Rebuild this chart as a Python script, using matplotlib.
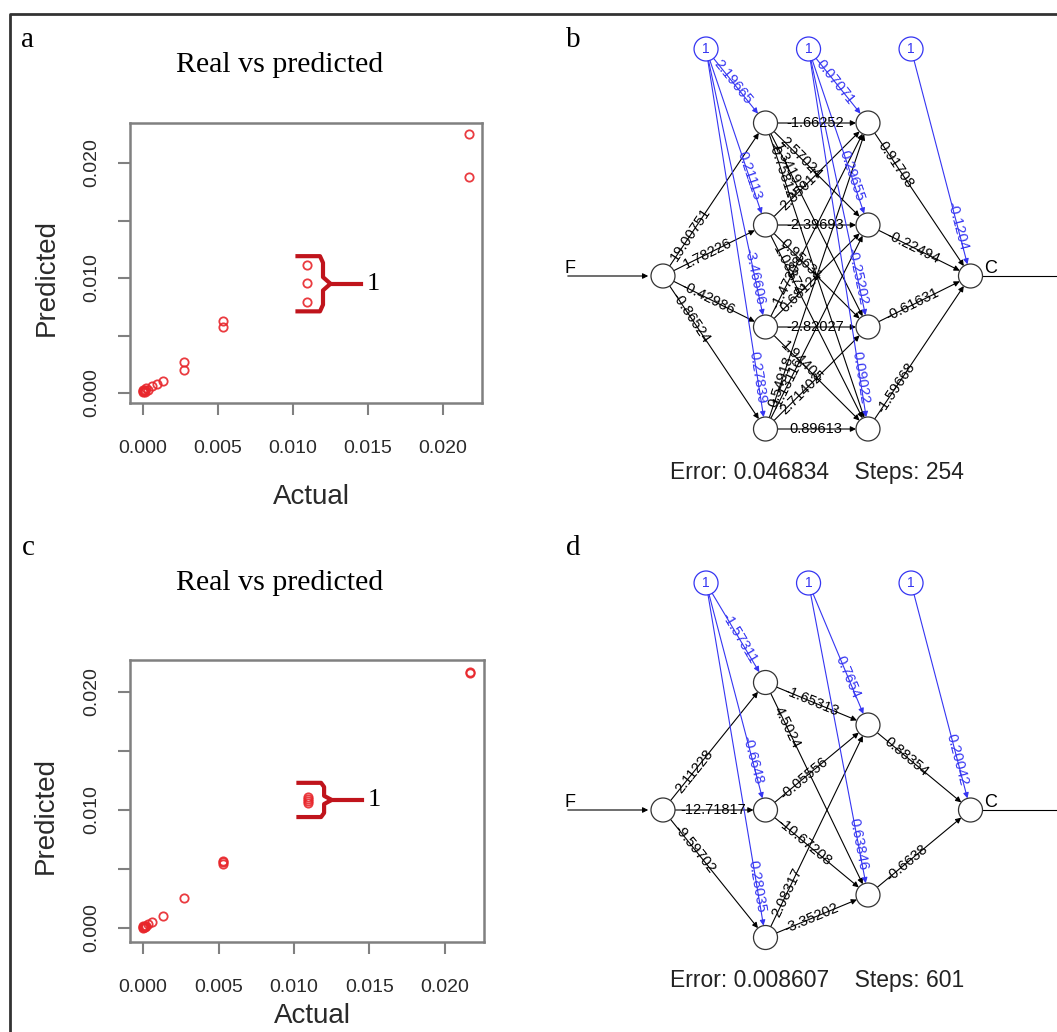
import matplotlib.pyplot as plt
from matplotlib.patches import Circle, FancyArrowPatch
import numpy as np

plt.rcParams['font.family'] = ['Liberation Sans', 'DejaVu Sans']

W, H = 1057, 1032

# real vs predicted, panel a
actual_a = [0.0, 0.0, 0.0, 0.00005, 0.0001, 0.0001, 0.0002, 0.0003, 0.0006, 0.0009,
            0.0013, 0.0027, 0.0027, 0.0053, 0.0053, 0.0109, 0.0109, 0.0109, 0.0217, 0.0217]
pred_a = [0.0001, 0.0002, 0.0003, 0.0002, 0.0001, 0.0003, 0.0004, 0.0003, 0.0006, 0.0008,
          0.0010, 0.0020, 0.0027, 0.0057, 0.0063, 0.0079, 0.0096, 0.0111, 0.0188, 0.0225]

# real vs predicted, panel c
actual_c = [0.0, 0.0, 0.0, 0.00005, 0.0001, 0.0001, 0.0002, 0.0003, 0.0006, 0.0013,
            0.0027, 0.0053, 0.0053, 0.0053, 0.0109, 0.0109, 0.0109, 0.0109, 0.0217, 0.0217]
pred_c = [0.0000, 0.0001, 0.0002, 0.0001, 0.0001, 0.0002, 0.0002, 0.0003, 0.0005, 0.0010,
          0.0025, 0.0054, 0.0056, 0.0057, 0.0106, 0.0108, 0.0109, 0.0111, 0.0216, 0.0217]

group_x = 0.0109   # points marked with the bracket "1"
ticks = [0.0, 0.005, 0.010, 0.015, 0.020]
tick_labels = ['0.000', '0.005', '0.010', '0.015', '0.020']
ytick_labels = ['0.000', '', '0.010', '', '0.020']

# network b : F -> 4 -> 4 -> C
b_layers = [1, 4, 4, 1]
b_weights = [
    [[19.00751, 1.78226, -0.42986, -0.86524]],
    [[-1.66252, 2.57024, 1.34197, -0.75812],
     [2.35017, -2.39693, 0.95631, 1.08372],
     [-1.47308, 0.68124, -2.82027, 1.94405],
     [0.54918, -1.13116, 2.71402, 0.89613]],
    [[0.91708], [-0.22494], [-0.61631], [-1.59668]],
]
b_bias = [[2.19665, 0.21113, -3.46606, 0.27839],
          [0.07071, 0.29655, -0.25202, 0.09022],
          [-0.1204]]
b_info = ('0.046834', 254)

# network d : F -> 3 -> 2 -> C
d_layers = [1, 3, 2, 1]
d_weights = [
    [[2.11228, -12.71817, -9.59702]],
    [[-1.65313, 4.5024], [-0.05556, -10.67208], [2.08317, -3.35202]],
    [[0.88354], [-0.6638]],
]
d_bias = [[-1.57311, -0.6648, 0.28035],
          [0.7654, 0.63846],
          [0.20042]]
d_info = ('0.008607', 601)

RED = '#e8262b'
BLUE = '#3535f2'
SERIF = ['Liberation Serif', 'DejaVu Serif']

fig = plt.figure(figsize=(W / 100, H / 100), dpi=100)

# background canvas in pixel units (y downwards)
cv = fig.add_axes([0, 0, 1, 1])
cv.set_xlim(0, W)
cv.set_ylim(H, 0)
cv.axis('off')

cv.plot([9.6, 9.6, W + 5], [H + 5, 14, 14], color='#333333', lw=2)
for lab, x, y in [('a', 28, 40), ('b', 573, 40), ('c', 28, 548), ('d', 573, 548)]:
    cv.text(x, y, lab, family=SERIF, fontsize=21, ha='center', va='center')
for y in [65, 583]:
    cv.text(280, y, 'Real vs predicted', family=SERIF, fontsize=21.5,
            ha='center', va='center')


def scatter_panel(rect, actual, pred, ylim, bracket_pad):
    ax = fig.add_axes(rect)
    ax.plot(actual, pred, 'o', ms=6, mfc='none', mec=RED, mew=1.3, alpha=0.9)
    ax.set_xlim(-0.000867, 0.0226)
    ax.set_ylim(*ylim)
    ax.set_xticks(ticks, tick_labels)
    ax.set_yticks(ticks, ytick_labels, rotation=90, va='center')
    for s in ax.spines.values():
        s.set_color('#808080')
        s.set_linewidth(1.8)
    ax.tick_params(axis='both', length=8.5, width=1.5, color='#808080',
                   labelsize=14, labelcolor='#2a2a2a')
    ax.tick_params(axis='x', pad=18)
    ax.tick_params(axis='y', pad=13)
    ax.set_xlabel('Actual', fontsize=20, color='#2a2a2a')
    ax.set_ylabel('Predicted', fontsize=20, color='#2a2a2a')

    # bracket around the marked group
    g = [p for a, p in zip(actual, pred) if a == group_x]
    yt, yb = max(g) + bracket_pad, min(g) - bracket_pad
    ym = (yt + yb) / 2
    xl, xr = group_x - 0.0006, group_x + 0.0011
    c = 0.0005
    cy = (yt - yb) * 0.12
    bx = [xl, xr - c * 0.4, xr, xr, xr + c, xr, xr, xr - c * 0.4, xl]
    by = [yt, yt, yt - cy, ym + cy, ym, ym - cy, yb + cy, yb, yb]
    ax.plot(bx, by, color='#c0141c', lw=3, solid_joinstyle='round', clip_on=False)
    ax.plot([xr + c, xr + 0.0025], [ym, ym], color='#c0141c', lw=3)
    ax.text(xr + 0.0029, ym, '1', family=SERIF, fontsize=19, va='center', ha='left')
    return ax


ax_a = scatter_panel([130 / W, 1 - 403 / H, 352 / W, 280 / H], actual_a, pred_a,
                     (-0.00087, 0.02348), 0.0008)
ax_c = scatter_panel([130 / W, 1 - 942 / H, 354 / W, 282 / H], actual_c, pred_c,
                     (-0.00119, 0.02271), 0.0012)
ax_a.yaxis.set_label_coords(-0.2, 0.45)
ax_c.yaxis.set_label_coords(-0.2, 0.45)
ax_a.xaxis.set_label_coords(0.515, -0.29)
ax_c.xaxis.set_label_coords(0.515, -0.215)


def synapse(p, q, label, color, near_source, r=12):
    p, q = np.array(p, float), np.array(q, float)
    u = (q - p) / np.hypot(*(q - p))
    a, b = p + u * r, q - u * r
    cv.add_patch(FancyArrowPatch(a, b, arrowstyle='-|>', mutation_scale=8,
                                 color=color, lw=0.8, shrinkA=0, shrinkB=0))
    t = p + u * 50 if near_source else q - u * 52
    ang = np.degrees(np.arctan2(-(q - p)[1], (q - p)[0]))
    if ang > 90:
        ang -= 180
    if ang < -90:
        ang += 180
    cv.text(t[0], t[1], str(label), color=color, fontsize=10.5, rotation=ang,
            rotation_mode='anchor', ha='center', va='center')


def draw_net(layers, weights, biases, info, x0, ymid, gap=102.5, spread=510, r=12):
    pos = []
    for li, n in enumerate(layers):
        step = spread / (n + 1)
        pos.append([(x0 + li * gap, ymid + (k - (n - 1) / 2) * step) for k in range(n)])

    # input and output lines
    cv.add_patch(FancyArrowPatch((x0 - 98, ymid), (x0 - r, ymid), arrowstyle='-|>',
                                 mutation_scale=8, color='black', lw=0.8))
    cv.text(x0 - 98, ymid + 1, 'F', fontsize=13, ha='left', va='bottom')
    xo = pos[-1][0][0]
    cv.plot([xo + r, W + 5], [ymid, ymid], color='black', lw=0.8)
    cv.text(xo + r + 2, ymid + 1, 'C', fontsize=13, ha='left', va='bottom')

    for li, w in enumerate(weights):
        for i, p in enumerate(pos[li]):
            for j, q in enumerate(pos[li + 1]):
                synapse(p, q, w[i][j], 'black', True)

    for li, bw in enumerate(biases):
        bxy = (x0 + li * gap + 0.42 * gap, ymid - 227)
        cv.add_patch(Circle(bxy, r, fill=False, ec=BLUE, lw=0.9))
        cv.text(bxy[0], bxy[1], '1', color=BLUE, fontsize=10, ha='center', va='center')
        for j, q in enumerate(pos[li + 1]):
            synapse(bxy, q, bw[j], BLUE, False)

    for layer in pos:
        for p in layer:
            cv.add_patch(Circle(p, r, fc='white', ec='#333333', lw=0.9, zorder=5))

    low = max(y for layer in pos for _, y in layer)
    cv.text(x0 + 1.5 * gap, low + 43,
            'Error: %s    Steps: %d' % info, fontsize=16.5, color='#222222',
            ha='center', va='center')


draw_net(b_layers, b_weights, b_bias, b_info, 663, 276)
draw_net(d_layers, d_weights, d_bias, d_info, 663, 810)

fig.savefig('out.png', dpi=100)
